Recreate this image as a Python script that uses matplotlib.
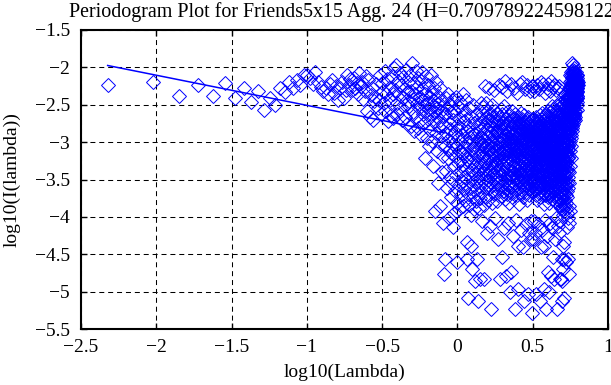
import numpy as np
import matplotlib
matplotlib.use('Agg')
import matplotlib.pyplot as plt

# periodogram of the aggregated series, lower half of the frequencies (k = 1 .. n_obs/2)
n_obs = 1322
fit_count = 173          # lowest frequencies used for the fit
fit_slope = -0.403
fit_intercept = -2.911

# log10(I(lambda)) for k = 1..100
y_k1_100 = [
    -2.23, -2.20, -2.38, -2.24, -2.38, -2.21, -2.41, -2.28, -2.46, -2.32,
    -2.57, -2.41, -2.50, -2.28, -2.33, -2.19, -2.28, -2.17, -2.24, -2.10,
    -2.10, -2.14, -2.22, -2.06, -2.19, -2.26, -2.31, -2.28, -2.36, -2.22,
    -2.17, -2.34, -2.25, -2.43, -2.28, -2.20, -2.41, -2.30, -2.10, -2.23,
    -2.16, -2.30, -2.14, -2.28, -2.21, -2.36, -2.08, -2.25, -2.19, -2.42,
    -2.32, -2.12, -2.59, -2.17, -2.66, -2.37, -2.27, -2.70, -2.45, -2.39,
    -2.22, -2.55, -2.44, -2.10, -2.62, -2.21, -2.32, -2.48, -2.05, -2.58,
    -2.36, -2.15, -2.72, -2.28, -2.44, -2.64, -2.12, -2.35, -2.68, -2.01,
    -2.30, -1.97, -2.48, -2.62, -2.18, -2.36, -2.08, -2.55, -2.24, -2.70,
    -2.41, -2.13, -2.29, -2.66, -2.50, -2.03, -2.33, -2.76, -2.20, -2.45,
]

# k = 101..173
y_k101_173 = [
    -2.52, -2.10, -2.78, -2.31, -1.94, -2.60, -2.42, -2.21, -2.85, -2.35,
    -2.05, -2.67, -2.48, -2.26, -2.81, -2.14, -2.55, -2.39, -2.72, -2.18,
    -2.90, -2.44, -2.06, -2.63, -2.29, -2.75, -2.50, -3.21, -2.36, -2.58,
    -2.12, -2.95, -2.47, -2.69, -2.24, -3.05, -2.56, -2.40, -2.84, -2.10,
    -2.62, -2.33, -2.98, -2.52, -3.32, -2.27, -2.73, -2.45, -3.92, -2.60,
    -2.88, -2.19, -2.54, -3.12, -2.66, -2.38, -3.55, -2.80, -2.48, -3.86,
    -2.71, -2.28, -3.02, -2.59, -2.92, -3.40, -2.43, -2.77, -4.08, -3.18,
    -4.77, -2.65, -4.57,
]

# k = 174..300
y_k174_300 = [
    -2.62, -3.05, -2.41, -3.38, -2.88, -2.55, -3.62, -2.97, -2.35, -3.21,
    -2.74, -4.02, -3.10, -2.49, -3.47, -2.83, -3.74, -2.60, -3.15, -2.92,
    -3.55, -2.44, -4.13, -3.02, -2.70, -3.33, -3.95, -2.58, -3.18, -2.86,
    -3.66, -2.39, -3.07, -3.44, -2.77, -3.81, -4.61, -2.95, -3.28, -2.52,
    -3.12, -3.58, -2.68, -3.90, -2.46, -3.25, -3.00, -3.71, -2.81, -3.39,
    -2.57, -3.52, -3.14, -2.90, -3.86, -2.36, -3.30, -3.63, -2.72, -3.08,
    -3.46, -2.64, -3.77, -3.19, -2.99, -3.56, -2.43, -3.35, -4.34, -2.85,
    -4.57, -3.23, -3.69, -5.08, -2.78, -3.41, -3.04, -3.84, -2.55, -3.27,
    -3.61, -2.93, -3.16, -3.49, -2.66, -3.97, -4.39, -3.11, -4.70, -2.87,
    -3.37, -3.73, -2.50, -3.20, -3.58, -2.98, -3.89, -3.06, -2.74, -3.43,
    -3.65, -4.86, -2.89, -3.32, -3.54, -2.62, -3.13, -3.79, -4.57, -3.01,
    -3.48, -2.80, -3.26, -3.70, -5.12, -2.96, -3.40, -3.88, -2.69, -3.17,
    -3.59, -3.05, -4.83, -2.84, -3.36, -3.75, -2.47,
]

# k = 301..661
y_k301_661 = [
    -3.12, -2.74, -3.48, -2.95, -4.05, -3.30, -2.61, -3.67, -3.02, -2.88,
    -3.41, -2.53, -3.19, -3.84, -2.79, -3.26, -4.83, -2.97, -3.55, -3.08,
    -2.68, -2.25, -3.36, -3.73, -2.90, -3.15, -2.47, -3.60, -3.04, -3.44,
    -2.82, -3.22, -4.21, -2.71, -3.50, -3.09, -2.58, -3.77, -3.18, -2.28,
    -3.35, -2.93, -3.62, -2.77, -3.11, -3.47, -4.12, -2.64, -3.28, -3.00,
    -2.86, -3.53, -5.23, -3.14, -2.72, -3.39, -3.81, -2.99, -2.50, -3.24,
    -3.58, -2.81, -3.07, -3.42, -2.66, -2.30, -3.33, -3.70, -2.92, -3.17,
    -2.76, -4.02, -3.27, -2.59, -3.49, -3.03, -2.87, -3.64, -3.20, -2.70,
    -3.45, -2.96, -3.10, -3.79, -2.62, -3.31, -2.84, -3.56, -4.30, -3.06,
    -2.73, -3.38, -2.91, -3.61, -2.24, -3.16, -3.52, -2.80, -3.25, -2.98,
    -4.83, -3.13, -2.67, -3.46, -3.01, -2.85, -3.72, -3.21, -2.56, -3.37,
    -3.08, -2.78, -3.59, -2.94, -3.29, -4.54, -3.44, -2.63, -2.26, -3.15,
    -2.89, -3.66, -3.05, -2.75, -3.40, -3.18, -2.52, -4.15, -3.32, -2.97,
    -3.54, -2.83, -3.11, -3.76, -2.69, -3.23, -2.18, -3.48, -4.79, -3.02,
    -2.79, -3.34, -3.63, -2.90, -3.09, -2.60, -3.51, -3.26, -2.86, -3.70,
    -3.14, -2.32, -3.43, -2.99, -4.08, -3.19, -2.73, -3.57, -3.04, -2.88,
    -3.36, -2.65, -3.81, -3.12, -2.94, -3.47, -2.77, -5.01, -3.22, -3.00,
    -2.84, -3.60, -3.07, -2.70, -3.39, -2.22, -3.28, -3.68, -2.96, -4.74,
    -3.17, -2.58, -3.45, -3.01, -2.81, -3.74, -3.24, -2.92, -3.53, -3.10,
    -2.76, -4.25, -3.33, -2.89, -3.62, -3.06, -2.68, -3.41, -3.15, -2.27,
    -3.49, -2.97, -3.20, -2.74, -5.23, -3.35, -3.03, -2.86, -3.66, -3.12,
    -2.62, -3.44, -3.08, -2.93, -4.04, -3.27, -2.79, -3.58, -3.00, -2.34,
    -3.31, -2.85, -3.71, -3.13, -2.71, -3.46, -3.05, -4.39, -2.90, -3.37,
    -4.97, -3.18, -2.66, -3.52, -2.95, -3.29, -3.83, -2.82, -3.09, -3.42,
    -2.77, -3.23, -3.61, -2.22, -3.14, -2.98, -3.50, -2.72, -3.36, -3.07,
    -2.88, -3.69, -3.19, -2.61, -3.43, -4.18, -3.02, -2.84, -3.55, -3.25,
    -3.11, -2.75, -3.64, -2.96, -3.32, -2.69, -2.20, -3.47, -3.04, -2.91,
    -4.40, -3.16, -2.80, -3.58, -3.27, -2.93, -3.73, -3.06, -2.64, -3.40,
    -3.21, -2.87, -5.12, -3.34, -2.97, -3.62, -3.10, -2.73, -3.48, -2.29,
    -3.01, -3.57, -2.83, -3.26, -3.68, -2.92, -3.15, -4.10, -2.78, -3.38,
    -3.09, -2.70, -3.53, -3.20, -2.95, -3.44, -2.86, -3.77, -3.03, -3.30,
    -2.76, -2.23, -3.41, -3.12, -2.90, -3.60, -3.24, -2.67, -5.03, -3.06,
    -3.35, -2.82, -3.49, -2.98, -3.19, -3.71, -2.74, -3.28, -3.56, -2.94,
    -3.13, -2.87, -4.22, -3.02, -3.45, -2.72, -3.31, -3.63, -2.96, -2.31,
    -3.39, -2.80, -3.17, -3.54, -4.06, -2.91, -3.25, -3.66, -3.08, -4.30,
    -2.85, -3.43, -3.11, -2.69, -2.25, -3.22, -3.50, -2.93, -3.36, -3.04,
    -5.28,
]

xticks = [-2.5, -2, -1.5, -1, -0.5, 0, 0.5, 1]
xtick_labels = ['\u22122.5', '\u22122', '\u22121.5', '\u22121', '\u22120.5', '0', '0.5', '1']
yticks = [-5.5, -5, -4.5, -4, -3.5, -3, -2.5, -2, -1.5]
ytick_labels = ['\u22125.5', '\u22125', '\u22124.5', '\u22124', '\u22123.5', '\u22123', '\u22122.5', '\u22122', '\u22121.5']

plt.rcParams['font.family'] = ['Liberation Serif', 'DejaVu Serif']
plt.rcParams['lines.scale_dashes'] = False

y_half = np.array(y_k1_100 + y_k101_173 + y_k174_300 + y_k301_661)
# the periodogram is symmetric: I(2*pi - lambda) = I(lambda)
y = np.concatenate([y_half, y_half[-2::-1]])
k = np.arange(1, len(y) + 1)
x = np.log10(2 * np.pi * k / n_obs)

fig = plt.figure(figsize=(6.11, 3.85), dpi=100)
ax = fig.add_axes([81 / 611, 1 - 329 / 385, 527 / 611, 299 / 385])

ax.plot(x, y, linestyle='none', marker='D', ms=7, mfc='none', mec='#0000ff', mew=0.7)
xf = x[:fit_count]
ax.plot(xf, fit_intercept + fit_slope * xf, color='#0000ff', lw=1.1)

ax.set_xlim(-2.5, 1)
ax.set_ylim(-5.5, -1.5)
ax.set_xticks(xticks)
ax.set_xticklabels(xtick_labels)
ax.set_yticks(yticks)
ax.set_yticklabels(ytick_labels)
ax.grid(True, color='k', linestyle=(0, (3.6, 2.8)), linewidth=0.75)
ax.tick_params(direction='in', top=True, right=True, length=4, width=1, labelsize=14)
ax.tick_params(axis='x', pad=7)
ax.tick_params(axis='y', pad=8)
for s in ax.spines.values():
    s.set_linewidth(1.5)

ax.set_xlabel('log10(Lambda)', fontsize=14, labelpad=6)
ax.set_ylabel('log10(I(lambda))', fontsize=14, labelpad=10)
ax.set_title('Periodogram Plot for Friends5x15 Agg. 24 (H=0.709789224598122)', fontsize=14.4, pad=9)

fig.savefig('out.png', dpi=100)
